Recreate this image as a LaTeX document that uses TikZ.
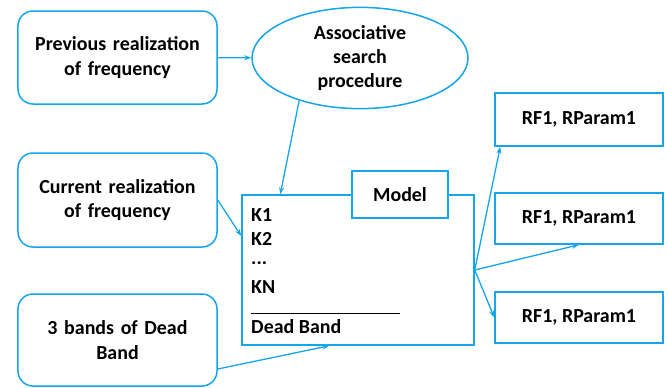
\documentclass[tikz,border=0pt]{standalone}
\usepackage{fontspec}
\setmainfont{Carlito}
\usetikzlibrary{shapes.geometric}
\definecolor{lineblue}{RGB}{20,165,235}
\tikzset{>=stealth}
\tikzset{
  inbox/.style={draw=lineblue, line width=1.5bp, rounded corners=15bp, align=center,
    minimum width=199bp, text width=185bp, font=\fontsize{20}{24.5}\selectfont\bfseries},
  outbox/.style={draw=lineblue, line width=1.5bp, minimum width=168bp, minimum height=52bp,
    font=\fontsize{20}{24}\selectfont\bfseries},
  entry/.style={anchor=west, inner sep=0pt, font=\fontsize{20}{24}\selectfont\bfseries},
  link/.style={-{Stealth[length=7bp,width=5bp]}, draw=lineblue, line width=1.3bp}
}
\usetikzlibrary{arrows.meta}

\begin{document}
\begin{tikzpicture}[x=1bp, y=-1bp]
\useasboundingbox (0,0) rectangle (667,387);
% inputs
\node[inbox, minimum height=93bp] (prev) at (117.5,57.5) {Previous realization\\of frequency};
\node[inbox, minimum height=94bp] (cur) at (117.5,200) {Current realization\\of frequency};
\node[inbox, minimum height=92bp] (bands) at (117.5,340) {3 bands of Dead\\Band};
\node[ellipse, draw=lineblue, line width=1.5bp, minimum width=216bp, minimum height=96bp,
  align=center, font=\fontsize{20}{24}\selectfont\bfseries] (assoc) at (360,58) {Associative\\search\\procedure};
% model
\node[draw=lineblue, line width=1.5bp, minimum width=232bp, minimum height=150bp] (model) at (358,270) {};
\node[draw=lineblue, line width=1.5bp, fill=white, minimum width=96bp, minimum height=47bp,
  font=\fontsize{20}{24}\selectfont\bfseries] (modlbl) at (400,194.5) {Model};
\node[entry] (k1) at (251,215) {K1};
\node[entry] (k2) at (251,239) {K2};
\node[entry] (kdots) at (251,263) {...};
\node[entry] (kn) at (251,287) {KN};
\draw[line width=1bp] (251,313) -- (400,313);
\node[entry] (dband) at (251,327) {Dead Band};
% outputs
\node[outbox, minimum height=53bp] (rfa) at (579,119.5) {RF1, RParam1};
\node[outbox, minimum height=51bp] (rfb) at (579,218.5) {RF1, RParam1};
\node[outbox, minimum height=51bp] (rfc) at (579,317.5) {RF1, RParam1};
% links
\draw[link] (prev) -- (assoc);
\draw[link] (assoc.215) -- ([xshift=39bp]model.north west);
\draw[link] (cur.east) -- ([yshift=34bp]model.west);
\draw[link] ([yshift=-29bp]bands.east) -- ([xshift=88bp]model.south west);
\draw[link] (model.east) -- ([xshift=6bp]rfa.south west);
\draw[link] (model.east) -- (rfb.south);
\draw[link] (model.east) -- (rfc.west);
\end{tikzpicture}
\end{document}
